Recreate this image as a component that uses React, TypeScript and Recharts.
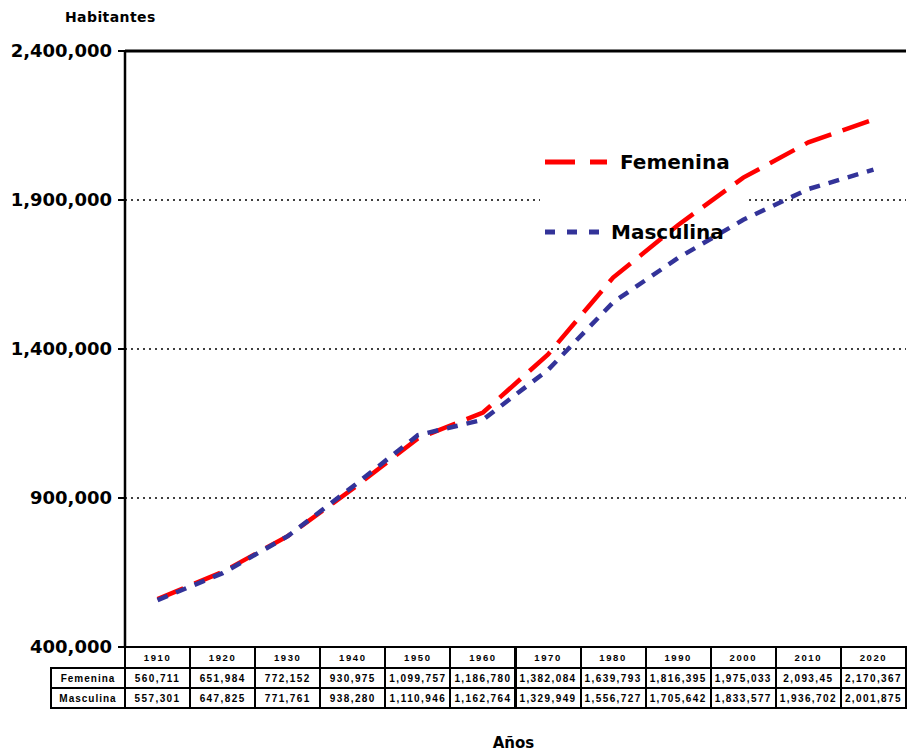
import React from 'react';
import { LineChart, Line, XAxis, YAxis, CartesianGrid, Legend, ReferenceLine } from 'recharts';

const anios = ['1910', '1920', '1930', '1940', '1950', '1960', '1970', '1980', '1990', '2000', '2010', '2020'];
const femenina = [560711, 651984, 772152, 930975, 1099757, 1186780, 1382084, 1639793, 1816395, 1975033, 2093450, 2170367];
const masculina = [557301, 647825, 771761, 938280, 1110946, 1162764, 1329949, 1556727, 1705642, 1833577, 1936702, 2001875];
const yTicks = [400000, 900000, 1400000, 1900000, 2400000];

const W = 908;
const H = 753;
const PLOT_L = 125;
const PLOT_R = 906;
const PLOT_T = 51;
const PLOT_B = 647;
const BAND = (PLOT_R - PLOT_L) / anios.length;

const fmt = (v: number) => v.toLocaleString('en-US');

const data = anios.map((anio, i) => ({ anio, femenina: femenina[i], masculina: masculina[i] }));

// the original table cut off the last digit of 2010
const femeninaTabla = femenina.map(fmt);
femeninaTabla[10] = '2,093,45';
const masculinaTabla = masculina.map(fmt);

const FONT = '"DejaVu Sans", Verdana, sans-serif';
const TFONT = '"Liberation Sans", Arial, sans-serif';

const series = [
  { key: 'femenina', name: 'Femenina', color: '#FF0000', dash: '28 12', legendDash: '30 15' },
  { key: 'masculina', name: 'Masculina', color: '#333399', dash: '11 9', legendDash: '10 12' },
];

const LegendBox = () => (
  <div style={{ position: 'relative', width: 205, height: 115 }}>
    <svg width={70} height={115} style={{ position: 'absolute', left: 0, top: 0 }}>
      <line x1={5} x2={67} y1={22} y2={22} stroke={series[0].color} strokeWidth={5} strokeDasharray={series[0].legendDash} />
      <line x1={5} x2={67} y1={92} y2={92} stroke={series[1].color} strokeWidth={5} strokeDasharray={series[1].legendDash} />
    </svg>
    <div style={{ position: 'absolute', left: 80, top: 9, fontFamily: FONT, fontWeight: 'bold', fontSize: 20, lineHeight: '26px' }}>
      {series[0].name}
    </div>
    <div style={{ position: 'absolute', left: 71, top: 79, fontFamily: FONT, fontWeight: 'bold', fontSize: 20, lineHeight: '26px' }}>
      {series[1].name}
    </div>
  </div>
);

const cellBase: React.CSSProperties = {
  position: 'absolute',
  boxSizing: 'border-box',
  border: '2px solid #000',
  display: 'flex',
  alignItems: 'center',
  justifyContent: 'center',
  fontFamily: TFONT,
  fontWeight: 'bold',
  fontSize: 10,
  letterSpacing: 1.4,
  whiteSpace: 'nowrap',
  overflow: 'hidden',
  color: '#000',
};

const ROW_Y = [PLOT_B - 1, 667, 687, 707];

const DataTable = () => {
  const cells: React.ReactNode[] = [];
  anios.forEach((a, i) => {
    const left = PLOT_L - 1 + i * BAND;
    const width = BAND + 2;
    cells.push(
      <div key={`h${i}`} style={{ ...cellBase, left, top: ROW_Y[0], width, height: ROW_Y[1] - ROW_Y[0] + 2, fontSize: 9.5, letterSpacing: 1.6 }}>{a}</div>
    );
    cells.push(
      <div key={`f${i}`} style={{ ...cellBase, left, top: ROW_Y[1], width, height: ROW_Y[2] - ROW_Y[1] + 2 }}>{femeninaTabla[i]}</div>
    );
    cells.push(
      <div key={`m${i}`} style={{ ...cellBase, left, top: ROW_Y[2], width, height: ROW_Y[3] - ROW_Y[2] + 2 }}>{masculinaTabla[i]}</div>
    );
  });
  cells.push(
    <div key="lf" style={{ ...cellBase, left: 50, top: ROW_Y[1], width: PLOT_L - 50 + 1, height: ROW_Y[2] - ROW_Y[1] + 2, letterSpacing: 1 }}>{series[0].name}</div>
  );
  cells.push(
    <div key="lm" style={{ ...cellBase, left: 50, top: ROW_Y[2], width: PLOT_L - 50 + 1, height: ROW_Y[3] - ROW_Y[2] + 2, letterSpacing: 1 }}>{series[1].name}</div>
  );
  return <>{cells}</>;
};

export default function App() {
  return (
    <div style={{ position: 'relative', width: W, height: H, background: '#fff' }}>
      <style>{'body{margin:0}'}</style>
      <LineChart
        width={W}
        height={H}
        data={data}
        margin={{ top: PLOT_T, right: W - PLOT_R, bottom: H - PLOT_B, left: 0 }}
      >
        <CartesianGrid yAxisId="left" vertical={false} stroke="#000" strokeWidth={1.5} strokeDasharray="2 4" />
        <rect x={540} y={192} width={205} height={16} fill="#fff" />
        <XAxis
          dataKey="anio"
          height={0}
          tick={false}
          tickLine={false}
          padding={{ left: BAND / 2, right: BAND / 2 }}
          axisLine={{ stroke: '#000', strokeWidth: 2.5 }}
        />
        <YAxis
          yAxisId="left"
          width={PLOT_L}
          domain={[400000, 2400000]}
          ticks={yTicks}
          tickFormatter={fmt}
          tickSize={7}
          tickMargin={6}
          axisLine={{ stroke: '#000', strokeWidth: 2.5 }}
          tickLine={{ stroke: '#000', strokeWidth: 2 }}
          tick={{ fontSize: 18, fontWeight: 'bold', fill: '#000', fontFamily: FONT }}
        />
        <YAxis
          yAxisId="right"
          orientation="right"
          width={0}
          domain={[400000, 2400000]}
          tick={false}
          tickLine={false}
          axisLine={{ stroke: '#000', strokeWidth: 3 }}
        />
        <ReferenceLine yAxisId="left" y={2400000} stroke="#000" strokeWidth={3} />
        {series.map(s => (
          <Line
            key={s.key}
            yAxisId="left"
            type="linear"
            dataKey={s.key}
            name={s.name}
            stroke={s.color}
            strokeWidth={4.5}
            strokeDasharray={s.dash}
            dot={false}
            activeDot={false}
            isAnimationActive={false}
          />
        ))}
        <Legend
          layout="vertical"
          align="center"
          verticalAlign="middle"
          content={() => <LegendBox />}
          wrapperStyle={{ left: 540, top: 140, width: 205, height: 115 }}
        />
      </LineChart>
      <DataTable />
      <div style={{ position: 'absolute', left: 65, top: 9, fontFamily: FONT, fontWeight: 'bold', fontSize: 14, letterSpacing: 0.4 }}>
        Habitantes
      </div>
      <div style={{ position: 'absolute', left: 0, width: 1027, top: 734, textAlign: 'center', fontFamily: FONT, fontWeight: 'bold', fontSize: 15 }}>
        Años
      </div>
    </div>
  );
}
